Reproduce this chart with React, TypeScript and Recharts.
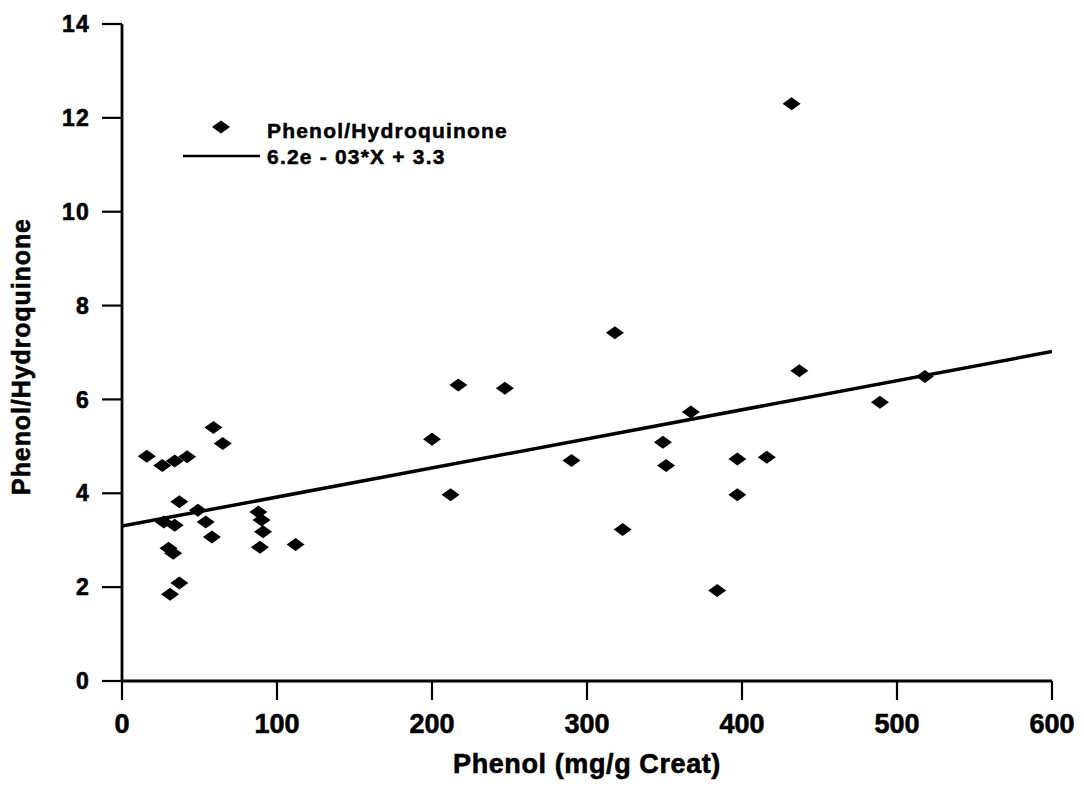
import React from 'react';
import { ScatterChart, Scatter, XAxis, YAxis, Legend } from 'recharts';

const phenol = [16, 26, 34, 42, 59, 65, 37, 49, 27, 34, 54, 58, 30, 33, 37, 31, 88, 90, 91, 89, 112, 200, 212, 217, 247, 290, 318, 323, 349, 351, 367, 384, 397, 397, 416, 432, 437, 489, 518];
const ratio = [4.79, 4.59, 4.69, 4.78, 5.4, 5.06, 3.82, 3.64, 3.39, 3.32, 3.39, 3.07, 2.83, 2.72, 2.09, 1.85, 3.6, 3.43, 3.18, 2.85, 2.91, 5.15, 3.97, 6.31, 6.24, 4.7, 7.42, 3.23, 5.09, 4.59, 5.73, 1.93, 4.73, 3.97, 4.77, 12.3, 6.61, 5.94, 6.49];
const fitX = [0, 600];
const fitY = [3.3, 7.02];
const xTicks = [0, 100, 200, 300, 400, 500, 600];
const yTicks = [0, 2, 4, 6, 8, 10, 12, 14];
const seriesName = 'Phenol/Hydroquinone';
const fitName = '6.2e - 03*X + 3.3';
const xTitle = 'Phenol (mg/g Creat)';
const yTitle = 'Phenol/Hydroquinone';

const points = phenol.map((x, i) => ({ x, y: ratio[i] }));
const fit = fitX.map((x, i) => ({ x, y: fitY[i] }));

const FONT = '"Liberation Sans", Arial, Helvetica, sans-serif';

const Diamond = (props: any) => {
  const { cx, cy } = props;
  if (cx == null || cy == null) return <g />;
  return <polygon points={`${cx - 9},${cy} ${cx},${cy - 6.5} ${cx + 9},${cy} ${cx},${cy + 6.5}`} fill="#000" />;
};

const NoShape = () => <g />;

const LegendBox = () => (
  <svg width={360} height={70} style={{ display: 'block' }}>
    <polygon points="29,17 38,10.5 47,17 38,23.5" fill="#000" />
    <line x1={0} y1={46} x2={77} y2={46} stroke="#000" strokeWidth={2.5} />
    <text x={84} y={28} fontFamily={FONT} fontWeight={700} fontSize={21} letterSpacing={1.2} fill="#000" stroke="#000" strokeWidth={0.5}>{seriesName}</text>
    <text x={84} y={54} fontFamily={FONT} fontWeight={700} fontSize={21} letterSpacing={1.2} fill="#000" stroke="#000" strokeWidth={0.5}>{fitName}</text>
  </svg>
);

const YLabel = (props: any) => {
  const vb = props.viewBox || { x: 0, y: 0, width: 0, height: 0 };
  const x = vb.x + 13;
  const y = vb.y + vb.height / 2 + 4;
  return (
    <text x={x} y={y} transform={`rotate(-90, ${x}, ${y})`} textAnchor="middle" dominantBaseline="central"
      fontFamily={FONT} fontWeight={700} fontSize={25} letterSpacing={0.9} fill="#000" stroke="#000" strokeWidth={0.6}>{yTitle}</text>
  );
};

const XLabel = (props: any) => {
  const vb = props.viewBox || { x: 0, y: 0, width: 0, height: 0 };
  return (
    <text x={vb.x + vb.width / 2} y={vb.y + 83} textAnchor="middle" dominantBaseline="central"
      fontFamily={FONT} fontWeight={700} fontSize={27} letterSpacing={0.6} fill="#000" stroke="#000" strokeWidth={0.6}>{xTitle}</text>
  );
};

export default function App() {
  return (
    <div style={{ width: 1076, height: 776, background: '#fff' }}>
      <ScatterChart width={1076} height={776} margin={{ top: 16, right: 32, bottom: 3, left: 0 }}>
        <XAxis
          type="number"
          dataKey="x"
          domain={[0, 600]}
          ticks={xTicks}
          allowDataOverflow
          height={100}
          tickSize={19}
          tickMargin={14}
          axisLine={{ stroke: '#000', strokeWidth: 2.8 }}
          tickLine={{ stroke: '#000', strokeWidth: 2.2 }}
          tick={{ fill: '#000', stroke: '#000', strokeWidth: 0.6, fontFamily: FONT, fontWeight: 700, fontSize: 27 }}
          label={<XLabel />}
        />
        <YAxis
          type="number"
          dataKey="y"
          domain={[0, 14]}
          ticks={yTicks}
          allowDataOverflow
          width={114}
          tickSize={20}
          tickMargin={12}
          axisLine={{ stroke: '#000', strokeWidth: 2.8 }}
          tickLine={{ stroke: '#000', strokeWidth: 2.2 }}
          tick={{ fill: '#000', stroke: '#000', strokeWidth: 0.6, fontFamily: FONT, fontWeight: 700, fontSize: 23, letterSpacing: 1.2 }}
          label={<YLabel />}
        />
        <Legend
          content={<LegendBox />}
          layout="vertical"
          verticalAlign="middle"
          align="center"
          wrapperStyle={{ position: 'absolute', left: 175, top: 102, width: 360, height: 70 }}
        />
        <Scatter name={fitName} data={fit} line={{ stroke: '#000', strokeWidth: 3.5 }} shape={<NoShape />} isAnimationActive={false} />
        <Scatter name={seriesName} data={points} shape={<Diamond />} fill="#000" isAnimationActive={false} />
      </ScatterChart>
    </div>
  );
}
